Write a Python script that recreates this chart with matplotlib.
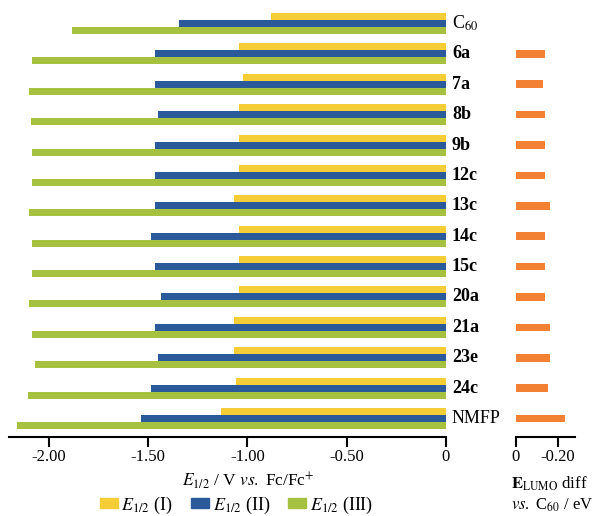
import numpy as np
import matplotlib
matplotlib.use("Agg")
import matplotlib.pyplot as plt
from matplotlib.patches import Patch

plt.rcParams['font.family'] = ['Liberation Serif', 'DejaVu Serif']
plt.rcParams['mathtext.fontset'] = 'stix'

compounds = ["C$_{60}$", "6a", "7a", "8b", "9b", "12c", "13c", "14c",
             "15c", "20a", "21a", "23e", "24c", "NMFP"]
bold_label = [False] + [True] * 12 + [False]

e_first = [-0.88, -1.04, -1.02, -1.04, -1.04, -1.04, -1.065, -1.04,
           -1.04, -1.04, -1.065, -1.065, -1.055, -1.135]
e_second = [-1.345, -1.467, -1.467, -1.451, -1.467, -1.467, -1.467, -1.487,
            -1.467, -1.437, -1.467, -1.451, -1.487, -1.534]
e_third = [-1.884, -2.085, -2.099, -2.09, -2.085, -2.085, -2.099, -2.085,
           -2.085, -2.099, -2.085, -2.069, -2.104, -2.159]

# LUMO difference vs C60 (no bar for C60 itself)
lumo_diff = [np.nan, -0.138, -0.127, -0.138, -0.138, -0.138, -0.161, -0.138,
             -0.138, -0.138, -0.161, -0.161, -0.152, -0.231]

c_yel = "#F5CD37"
c_blu = "#2A5A9A"
c_grn = "#A6C13F"
c_orn = "#F28133"

fig = plt.figure(figsize=(5.98, 5.16), dpi=100)
ax = fig.add_axes([9/598, 1-436.7/516, (446-9)/598, (436.7-5.3)/516])
ax2 = fig.add_axes([515.7/598, 1-436.7/516, (575-515.7)/598, (436.7-5.3)/516])

y = np.arange(len(compounds))
h = 0.23
ax.barh(y - h, e_first, height=h, color=c_yel)
ax.barh(y, e_second, height=h, color=c_blu)
ax.barh(y + h, e_third, height=h, color=c_grn)

ax.set_xlim(-2.2, 0)
ax.set_ylim(len(compounds) - 0.4, -0.6)
ax.set_xticks([-2.0, -1.5, -1.0, -0.5, 0])
ax.set_xticklabels(["-2.00", "-1.50", "-1.00", "-0.50", "0"])
ax.set_yticks([])
for s in ["left", "right", "top"]:
    ax.spines[s].set_visible(False)
ax.spines["bottom"].set_linewidth(1.5)
ax.tick_params(axis="x", direction="out", length=7, width=1.5, labelsize=12, pad=2)

for i, name in enumerate(compounds):
    ax.text(0.03, i, name, fontsize=13, va="center", ha="left",
            fontweight="bold" if bold_label[i] else "normal")

ax2.barh(y, lumo_diff, height=0.25, color=c_orn)
ax2.set_xlim(0, -0.28)
ax2.set_ylim(len(compounds) - 0.4, -0.6)
ax2.set_xticks([0, -0.2])
ax2.set_xticklabels(["0", "-0.20"])
ax2.set_yticks([])
for s in ["left", "right", "top"]:
    ax2.spines[s].set_visible(False)
ax2.spines["bottom"].set_linewidth(1.5)
ax2.tick_params(axis="x", direction="out", length=7, width=1.5, labelsize=12, pad=2)

fig.text(248/598, 1-481/516, r"$E_{1/2}$ / V $vs.$ Fc/Fc$^{+}$", fontsize=12.5,
         ha="center", va="center")
fig.text(511/598, 1-484/516, r"$\mathbf{E}_{\mathrm{LUMO}}$ diff", fontsize=12,
         ha="left", va="center")
fig.text(511/598, 1-505/516, r"$vs.$ C$_{60}$ / eV", fontsize=12,
         ha="left", va="center")

handles = [Patch(color=c_yel), Patch(color=c_blu), Patch(color=c_grn)]
labels = [r"$E_{1/2}$ (I)", r"$E_{1/2}$ (II)", r"$E_{1/2}$ (III)"]
fig.legend(handles, labels, loc="center", bbox_to_anchor=(236/598, 1-505/516),
           ncol=3, frameon=False, fontsize=13, handlelength=1.0, handleheight=0.4,
           handletextpad=0.2, columnspacing=1.0, borderpad=0)

fig.savefig("out.png", dpi=100)
